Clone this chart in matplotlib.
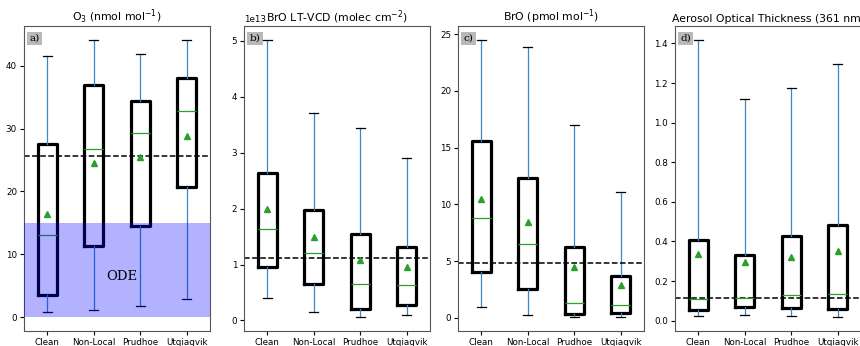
import matplotlib
matplotlib.use("Agg")
import matplotlib.pyplot as plt

cats = ["Clean", "Non-Local", "Prudhoe", "Utqiagvik"]

# per panel: whislo, q1, med, q3, whishi, mean for each category
o3_lo = [0.8, 1.1, 1.8, 2.85]
o3_q1 = [3.5, 11.3, 14.5, 20.7]
o3_med = [13.1, 26.7, 29.3, 32.8]
o3_q3 = [27.5, 37.0, 34.3, 38.0]
o3_hi = [41.6, 44.1, 41.8, 44.0]
o3_mean = [16.4, 24.5, 25.5, 28.8]
o3_ref = 25.6

bro_vcd_lo = [0.40e13, 0.15e13, 0.06e13, 0.09e13]
bro_vcd_q1 = [0.95e13, 0.65e13, 0.20e13, 0.285e13]
bro_vcd_med = [1.63e13, 1.21e13, 0.65e13, 0.64e13]
bro_vcd_q3 = [2.63e13, 1.98e13, 1.54e13, 1.32e13]
bro_vcd_hi = [5.02e13, 3.72e13, 3.45e13, 2.90e13]
bro_vcd_mean = [2.0e13, 1.49e13, 1.09e13, 0.96e13]
bro_vcd_ref = 1.11e13

bro_lo = [0.9, 0.2, 0.05, 0.1]
bro_q1 = [4.05, 2.5, 0.3, 0.4]
bro_med = [8.8, 6.5, 1.3, 1.1]
bro_q3 = [15.6, 12.3, 6.25, 3.65]
bro_hi = [24.5, 23.9, 17.0, 11.1]
bro_mean = [10.5, 8.45, 4.5, 2.85]
bro_ref = 4.78

aot_lo = [0.023, 0.027, 0.022, 0.018]
aot_q1 = [0.052, 0.067, 0.062, 0.059]
aot_med = [0.111, 0.116, 0.129, 0.134]
aot_q3 = [0.405, 0.334, 0.428, 0.483]
aot_hi = [1.418, 1.118, 1.176, 1.297]
aot_mean = [0.335, 0.295, 0.32, 0.354]
aot_ref = 0.117

panels = [
    ("O$_3$ (nmol mol$^{-1}$)", "a)", o3_lo, o3_q1, o3_med, o3_q3, o3_hi, o3_mean, o3_ref),
    ("BrO LT-VCD (molec cm$^{-2}$)", "b)", bro_vcd_lo, bro_vcd_q1, bro_vcd_med, bro_vcd_q3, bro_vcd_hi, bro_vcd_mean, bro_vcd_ref),
    ("BrO (pmol mol$^{-1}$)", "c)", bro_lo, bro_q1, bro_med, bro_q3, bro_hi, bro_mean, bro_ref),
    ("Aerosol Optical Thickness (361 nm)", "d)", aot_lo, aot_q1, aot_med, aot_q3, aot_hi, aot_mean, aot_ref),
]

W, H = 860, 346
fig = plt.figure(figsize=(8.6, 3.46), dpi=100)
lefts = [24, 244, 458, 675]

for i, (title, lab, lo, q1, med, q3, hi, mean, ref) in enumerate(panels):
    ax = fig.add_axes([lefts[i] / W, 15 / H, 186 / W, 305 / H])
    stats = []
    for j in range(len(cats)):
        stats.append(dict(label=cats[j], whislo=lo[j], q1=q1[j], med=med[j],
                          q3=q3[j], whishi=hi[j], mean=mean[j], fliers=[]))
    ax.bxp(stats, widths=0.4, showmeans=True, showfliers=False,
           boxprops=dict(color="black", linewidth=2.3),
           whiskerprops=dict(color="#3a87c4", linewidth=0.9),
           capprops=dict(color="black", linewidth=0.9),
           medianprops=dict(color="tab:green", linewidth=0.9),
           meanprops=dict(marker="^", markerfacecolor="tab:green",
                          markeredgecolor="tab:green", markersize=4.5))
    ax.axhline(ref, color="black", linestyle="--", linewidth=1.1)
    if i == 0:
        ax.axhspan(0, 15, color="blue", alpha=0.3, linewidth=0, zorder=3)
        ax.text(2.6, 6.4, "ODE", family="DejaVu Serif", fontsize=9.5,
                ha="center", va="center", zorder=4)
    ax.set_title(title, fontsize=7.8, pad=3)
    ax.text(0.03, 0.975, lab, transform=ax.transAxes, family="DejaVu Serif",
            fontsize=7.5, ha="left", va="top",
            bbox=dict(facecolor="grey", alpha=0.55, edgecolor="none", pad=1.5))
    ax.tick_params(labelsize=6.3, length=3, pad=2)
    ax.yaxis.get_offset_text().set_fontsize(6.3)
    for s in ax.spines.values():
        s.set_linewidth(0.8)
        s.set_color("#555555")

fig.savefig("out.png", dpi=100)
